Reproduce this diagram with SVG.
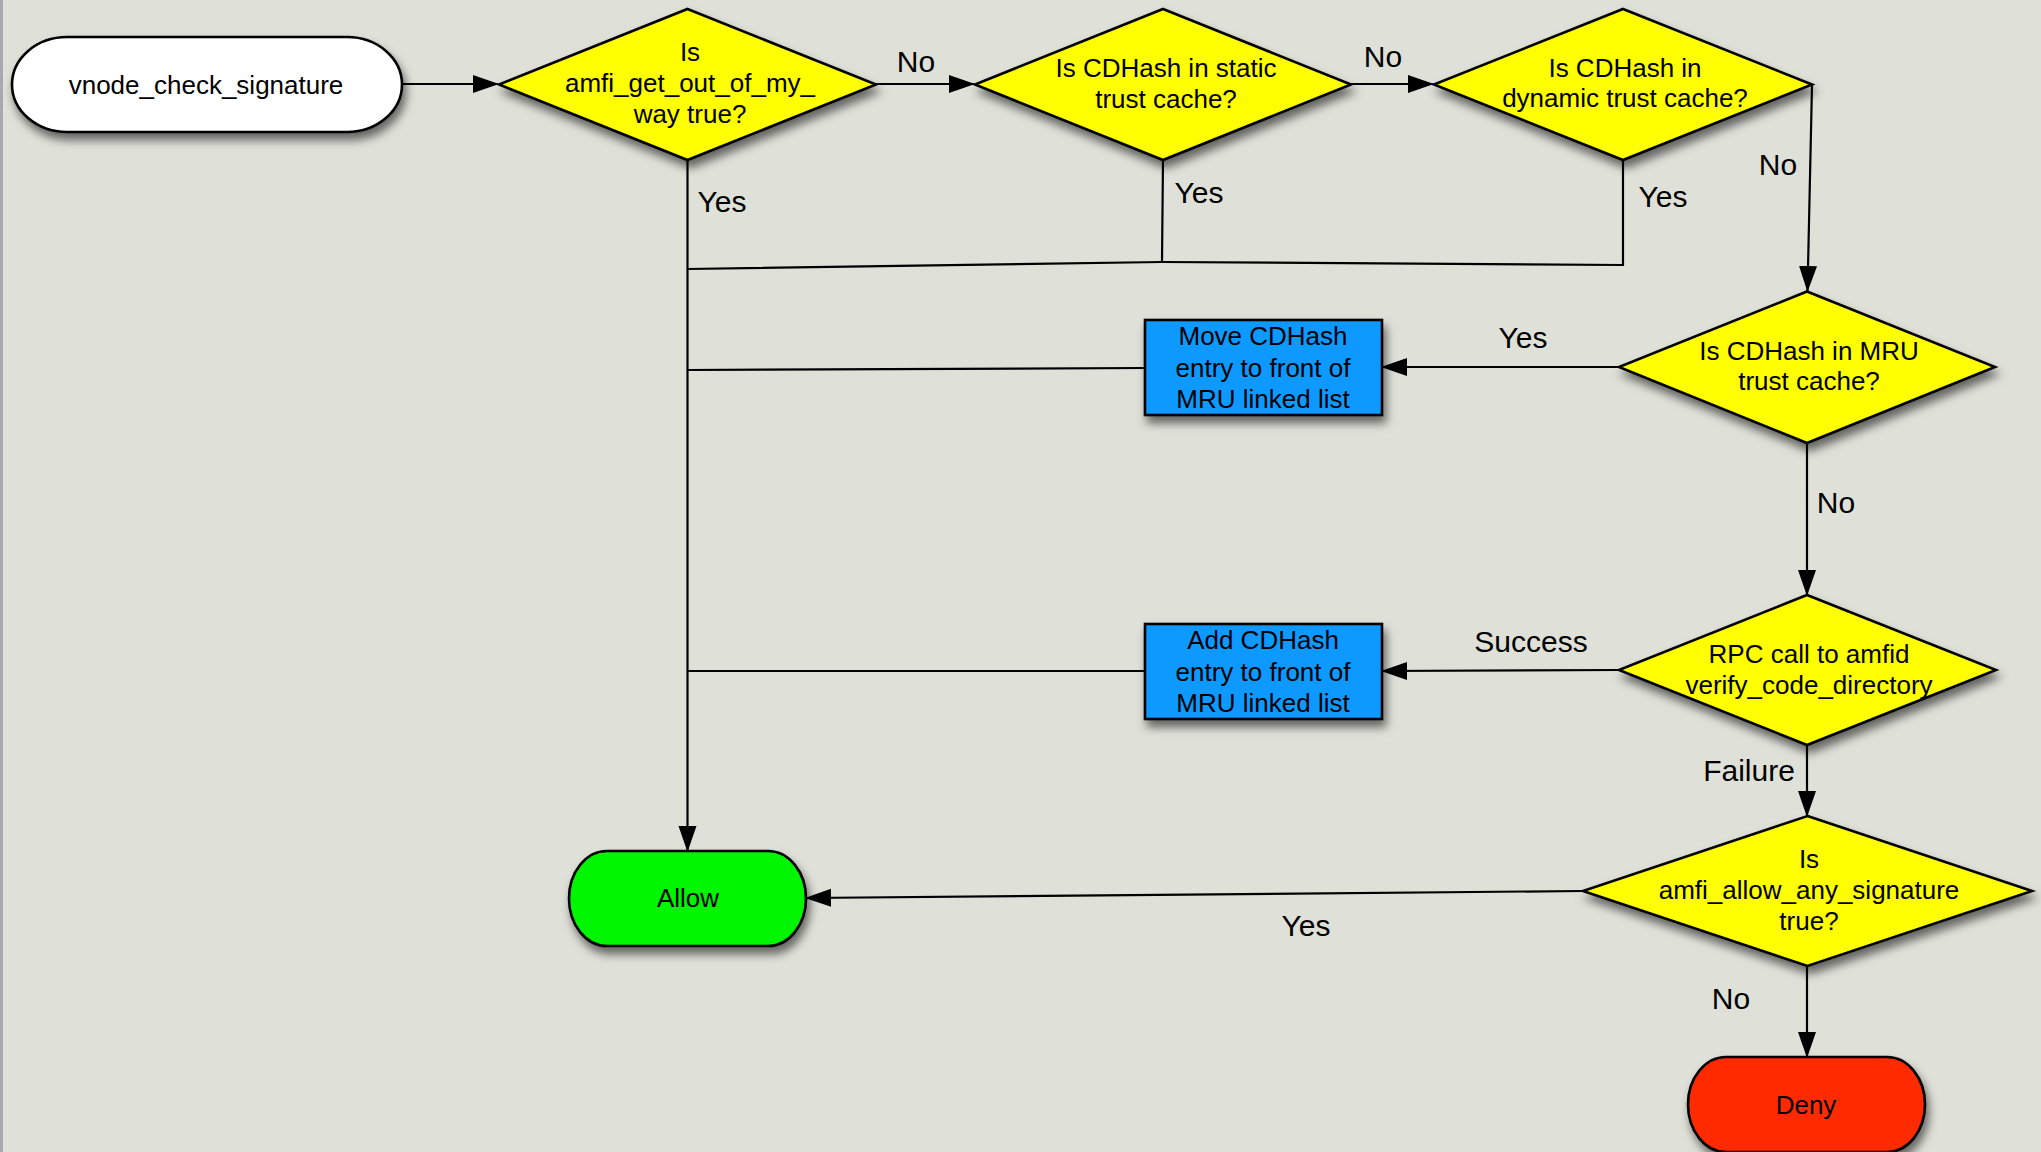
<svg xmlns="http://www.w3.org/2000/svg" width="2041" height="1152" viewBox="0 0 2041 1152">
<defs>
<filter id="sh" x="-20%" y="-20%" width="140%" height="160%">
<feDropShadow dx="3" dy="7" stdDeviation="5" flood-color="#000" flood-opacity="0.55"/>
</filter>
<marker id="arr" markerUnits="userSpaceOnUse" markerWidth="26" markerHeight="20" refX="25" refY="9" orient="auto" viewBox="0 0 26 18">
<path d="M0,0 L26,9 L0,18 z" fill="#000"/>
</marker>
</defs>
<style>
.node{stroke:#000;stroke-width:2.6;filter:url(#sh)}
.dia{fill:#ffff00}
.box{fill:#0a99ff}
.t{font-family:"Liberation Sans",Arial,sans-serif;font-size:26px;fill:#000;text-anchor:middle}
.lbl{font-family:"Liberation Sans",Arial,sans-serif;font-size:30px;fill:#000;text-anchor:middle}
.c{fill:none;stroke:#000;stroke-width:2.2}
.ca{fill:none;stroke:#000;stroke-width:2.2;marker-end:url(#arr)}
</style>
<rect x="0" y="0" width="2041" height="1152" fill="#dfe0d8"/>
<rect x="0" y="0" width="3" height="1152" fill="#a8a8b0"/>

<g id="connectors">
<path class="ca" d="M402,84 H498"/>
<path class="ca" d="M876,84 H974"/>
<path class="ca" d="M1351,84 H1433"/>
<path class="ca" d="M1812,85 L1807.5,291"/>
<path class="ca" d="M1619,367 H1382"/>
<path class="ca" d="M1807,443 V595"/>
<path class="ca" d="M1619,670 L1382,671"/>
<path class="ca" d="M1807,745 V816"/>
<path class="ca" d="M1583,891 L806,898"/>
<path class="ca" d="M1807,966 V1057"/>
<path class="ca" d="M687.5,160 V851"/>
<path class="c" d="M1163,160 L1162,262"/>
<path class="c" d="M1623,160 V265 L1162,262 L687.5,269"/>
<path class="c" d="M1145,368 L687.5,370"/>
<path class="c" d="M1145,671 H687.5"/>
</g>

<g id="labels">
<text class="lbl" x="916" y="72">No</text>
<text class="lbl" x="1383" y="67">No</text>
<text class="lbl" x="722" y="212">Yes</text>
<text class="lbl" x="1199" y="203">Yes</text>
<text class="lbl" x="1663" y="207">Yes</text>
<text class="lbl" x="1778" y="175">No</text>
<text class="lbl" x="1523" y="348">Yes</text>
<text class="lbl" x="1836" y="513">No</text>
<text class="lbl" x="1531" y="652">Success</text>
<text class="lbl" x="1749" y="781">Failure</text>
<text class="lbl" x="1306" y="936">Yes</text>
<text class="lbl" x="1731" y="1009">No</text>
</g>

<g id="start">
<rect class="node" x="12" y="37" width="390" height="95" rx="55" ry="47.5" fill="#ffffff"/>
<text class="t" x="206" y="94">vnode_check_signature</text>
</g>

<g id="d1">
<polygon class="node dia" points="687.5,9 876,84.5 687.5,160 499,84.5"/>
<text class="t" x="690" y="61">Is</text>
<text class="t" x="690" y="92">amfi_get_out_of_my_</text>
<text class="t" x="690" y="123">way true?</text>
</g>

<g id="d2">
<polygon class="node dia" points="1163,9 1351,84.5 1163,160 975,84.5"/>
<text class="t" x="1166" y="77">Is CDHash in static</text>
<text class="t" x="1166" y="108">trust cache?</text>
</g>

<g id="d3">
<polygon class="node dia" points="1623,9 1812,84.5 1623,160 1434,84.5"/>
<text class="t" x="1625" y="77">Is CDHash in</text>
<text class="t" x="1625" y="107">dynamic trust cache?</text>
</g>

<g id="d4">
<polygon class="node dia" points="1807,291.5 1995,367 1807,443 1619,367"/>
<text class="t" x="1809" y="360">Is CDHash in MRU</text>
<text class="t" x="1809" y="390">trust cache?</text>
</g>

<g id="box1">
<rect class="node box" x="1145" y="320" width="237" height="95"/>
<text class="t" x="1263" y="345">Move CDHash</text>
<text class="t" x="1263" y="377">entry to front of</text>
<text class="t" x="1263" y="408">MRU linked list</text>
</g>

<g id="d5">
<polygon class="node dia" points="1807,595 1996,670 1807,745 1619,670"/>
<text class="t" x="1809" y="663">RPC call to amfid</text>
<text class="t" x="1809" y="694">verify_code_directory</text>
</g>

<g id="box2">
<rect class="node box" x="1145" y="624" width="237" height="95"/>
<text class="t" x="1263" y="649">Add CDHash</text>
<text class="t" x="1263" y="681">entry to front of</text>
<text class="t" x="1263" y="712">MRU linked list</text>
</g>

<g id="d6">
<polygon class="node dia" points="1807.5,816 2032,891 1807.5,966 1583,891"/>
<text class="t" x="1809" y="868">Is</text>
<text class="t" x="1809" y="899">amfi_allow_any_signature</text>
<text class="t" x="1809" y="930">true?</text>
</g>

<g id="allow">
<rect class="node" x="569" y="851" width="237" height="95" rx="38" ry="47.5" fill="#00f500"/>
<text class="t" x="688" y="907">Allow</text>
</g>

<g id="deny">
<rect class="node" x="1688" y="1057" width="237" height="95" rx="38" ry="47.5" fill="#ff2a00"/>
<text class="t" x="1806" y="1114">Deny</text>
</g>
</svg>
